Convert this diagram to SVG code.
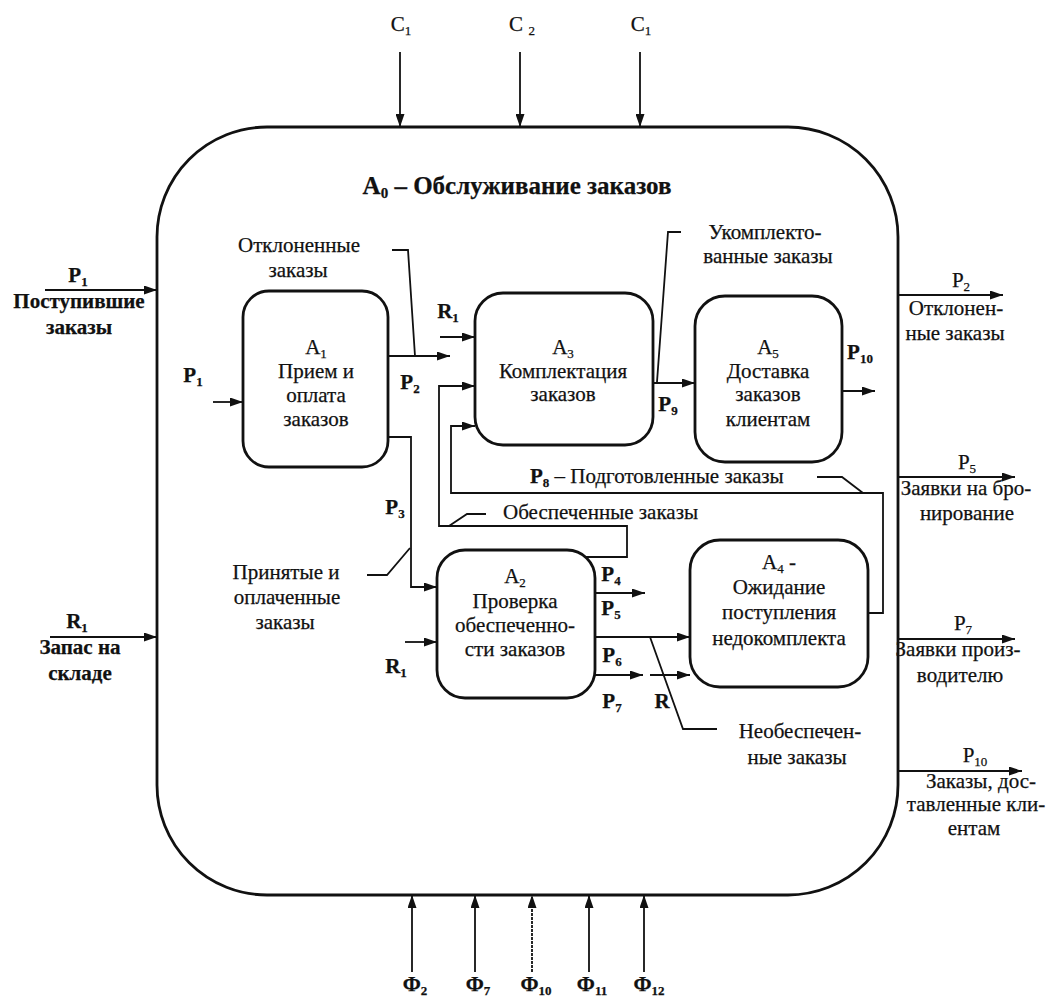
<svg xmlns="http://www.w3.org/2000/svg" width="1055" height="998" viewBox="0 0 1055 998">
<defs>
<marker id="ah" markerWidth="13" markerHeight="9" refX="13" refY="4.5" orient="auto" markerUnits="userSpaceOnUse"><path d="M0,0 L13,4.5 L0,9 z" fill="#111"/></marker>
<style>
.box{fill:none;stroke:#111;stroke-width:2.8}
.ln{fill:none;stroke:#111;stroke-width:1.8}
.ar{marker-end:url(#ah)}
text{font-family:"Liberation Serif","Times New Roman",serif;font-size:21px;fill:#111;stroke:#111;stroke-width:0.25}
.c{text-anchor:middle}
.b{font-weight:bold}
.s{font-size:13px}
.t{font-size:25px}
.ts{font-size:15px}
</style>
</defs>
<rect width="1055" height="998" fill="#fff"/>

<g id="A0">
<rect class="box" x="157" y="127" width="741" height="768" rx="110" ry="110"/>
<text class="c b t" x="517" y="194">A<tspan class="ts" dy="4">0</tspan><tspan dy="-4"> – Обслуживание заказов</tspan></text>
</g>

<g id="A1">
<rect class="box" x="243" y="291" width="145" height="176" rx="26"/>
<text class="c" x="316" y="354">A<tspan class="s" dy="4">1</tspan></text>
<text class="c" x="316" y="378">Прием и</text>
<text class="c" x="316" y="402">оплата</text>
<text class="c" x="316" y="426">заказов</text>
</g>

<g id="A3">
<rect class="box" x="475" y="293" width="178" height="152" rx="28"/>
<text class="c" x="563" y="354">A<tspan class="s" dy="4">3</tspan></text>
<text class="c" x="563" y="378">Комплектация</text>
<text class="c" x="563" y="401">заказов</text>
</g>

<g id="A5">
<rect class="box" x="695" y="296" width="147" height="166" rx="30"/>
<text class="c" x="768" y="354">A<tspan class="s" dy="4">5</tspan></text>
<text class="c" x="768" y="378">Доставка</text>
<text class="c" x="768" y="401">заказов</text>
<text class="c" x="768" y="426">клиентам</text>
</g>

<g id="A2">
<rect class="box" x="437" y="550" width="158" height="148" rx="28"/>
<text class="c" x="515" y="583">A<tspan class="s" dy="4">2</tspan></text>
<text class="c" x="515" y="608">Проверка</text>
<text class="c" x="515" y="632">обеспеченно-</text>
<text class="c" x="515" y="656">сти заказов</text>
</g>

<g id="A4">
<rect class="box" x="690" y="540" width="178" height="147" rx="30"/>
<text class="c" x="779" y="569">A<tspan class="s" dy="4">4</tspan><tspan dy="-4"> -</tspan></text>
<text class="c" x="779" y="594">Ожидание</text>
<text class="c" x="779" y="619">поступления</text>
<text class="c" x="779" y="645">недокомплекта</text>
</g>

<g id="connectors">
<path class="ln ar" d="M400,52 V127"/>
<path class="ln ar" d="M520,52 V127"/>
<path class="ln ar" d="M640,52 V127"/>
<path class="ln ar" d="M412,972 V895"/>
<path class="ln ar" d="M475,972 V895"/>
<path class="ln ar" d="M532,972 V895" stroke-dasharray="3,1"/>
<path class="ln ar" d="M589,972 V895"/>
<path class="ln ar" d="M644,972 V895"/>
<path class="ln ar" d="M45,290 H157"/>
<path class="ln ar" d="M50,637 H157"/>
<path class="ln ar" d="M898,295 H1003"/>
<path class="ln ar" d="M898,477 H1015"/>
<path class="ln ar" d="M898,639 H1015"/>
<path class="ln ar" d="M898,771 H1022"/>
<path class="ln ar" d="M213,402 H243"/>
<path class="ln ar" d="M388,356 H450"/>
<path class="ln ar" d="M388,437 H411 V587 H437"/>
<path class="ln ar" d="M440,337 H475"/>
<path class="ln ar" d="M586,557 H627 V526 H439 V386 H475"/>
<path class="ln ar" d="M868,613 H883 V493 H451 V426 H475"/>
<path class="ln ar" d="M653,383 H695"/>
<path class="ln ar" d="M842,391 H875"/>
<path class="ln ar" d="M405,642 H437"/>
<path class="ln ar" d="M595,593 H645"/>
<path class="ln ar" d="M595,637 H690"/>
<path class="ln ar" d="M595,675 H643"/>
<path class="ln ar" d="M650,675 H690"/>
<path class="ln" d="M392,250 H408 L415,356"/>
<path class="ln" d="M657,382 L668,232 H681"/>
<path class="ln" d="M367,575 H387 L410,548"/>
<path class="ln" d="M449,526 L467,514 H486"/>
<path class="ln" d="M817,477 H842 L863,493"/>
<path class="ln" d="M650,637 L683,729 H717"/>
</g>

<g id="labels">
<text class="c" x="401" y="31">C<tspan class="s" dy="4">1</tspan></text>
<text class="c" x="522" y="31">C <tspan class="s" dy="4">2</tspan></text>
<text class="c" x="641" y="31">C<tspan class="s" dy="4">1</tspan></text>

<text class="c b" x="415" y="991">Ф<tspan class="s" dy="4">2</tspan></text>
<text class="c b" x="478" y="991">Ф<tspan class="s" dy="4">7</tspan></text>
<text class="c b" x="536" y="991">Ф<tspan class="s" dy="4">10</tspan></text>
<text class="c b" x="592" y="991">Ф<tspan class="s" dy="4">11</tspan></text>
<text class="c b" x="649" y="991">Ф<tspan class="s" dy="4">12</tspan></text>

<text class="c b" x="78" y="282">P<tspan class="s" dy="4">1</tspan></text>
<text class="c b" x="79" y="308">Поступившие</text>
<text class="c b" x="79" y="334">заказы</text>

<text class="c b" x="77" y="628">R<tspan class="s" dy="4">1</tspan></text>
<text class="c b" x="80" y="654">Запас на</text>
<text class="c b" x="80" y="680">складе</text>

<text class="c" x="961" y="287">P<tspan class="s" dy="4">2</tspan></text>
<text class="c" x="956" y="315">Отклонен-</text>
<text class="c" x="955" y="340">ные заказы</text>

<text class="c" x="967" y="469">P<tspan class="s" dy="4">5</tspan></text>
<text class="c" x="966" y="495">Заявки на бро-</text>
<text class="c" x="967" y="520">нирование</text>

<text class="c" x="963" y="630">P<tspan class="s" dy="4">7</tspan></text>
<text class="c" x="958" y="656">Заявки произ-</text>
<text class="c" x="960" y="682">водителю</text>

<text class="c" x="975" y="762">P<tspan class="s" dy="4">10</tspan></text>
<text class="c" x="981" y="788">Заказы, дос-</text>
<text class="c" x="976" y="811">тавленные кли-</text>
<text class="c" x="974" y="835">ентам</text>

<text class="c" x="299" y="252">Отклоненные</text>
<text class="c" x="298" y="277">заказы</text>

<text class="c b" x="193" y="382">P<tspan class="s" dy="4">1</tspan></text>
<text class="c b" x="410" y="389">P<tspan class="s" dy="4">2</tspan></text>
<text class="c b" x="448" y="318">R<tspan class="s" dy="4">1</tspan></text>
<text class="c b" x="395" y="514">P<tspan class="s" dy="4">3</tspan></text>
<text class="c b" x="668" y="411">P<tspan class="s" dy="4">9</tspan></text>
<text class="c b" x="860" y="359">P<tspan class="s" dy="4">10</tspan></text>

<text class="c" x="765" y="239">Укомплекто-</text>
<text class="c" x="768" y="263">ванные заказы</text>

<text x="530" y="483"><tspan class="b">P</tspan><tspan class="s b" dy="4">8</tspan><tspan dy="-4"> – Подготовленные заказы</tspan></text>
<text x="503" y="519">Обеспеченные заказы</text>

<text class="c" x="286" y="579">Принятые и</text>
<text class="c" x="287" y="604">оплаченные</text>
<text class="c" x="285" y="629">заказы</text>

<text class="c b" x="396" y="673">R<tspan class="s" dy="4">1</tspan></text>
<text class="c b" x="611" y="581">P<tspan class="s" dy="4">4</tspan></text>
<text class="c b" x="611" y="615">P<tspan class="s" dy="4">5</tspan></text>
<text class="c b" x="612" y="662">P<tspan class="s" dy="4">6</tspan></text>
<text class="c b" x="612" y="708">P<tspan class="s" dy="4">7</tspan></text>
<text class="c b" x="662" y="708">R</text>

<text class="c" x="800" y="738">Необеспечен-</text>
<text class="c" x="797" y="764">ные заказы</text>
</g>
</svg>
